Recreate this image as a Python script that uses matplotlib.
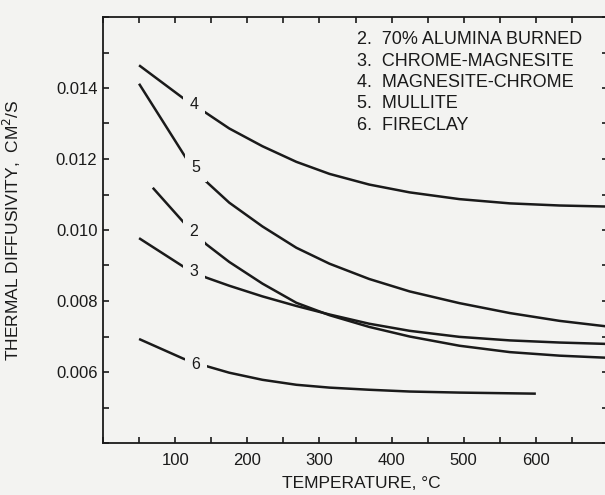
import matplotlib
matplotlib.use('Agg')
from matplotlib import pyplot as plt
from matplotlib.ticker import MultipleLocator, FixedLocator, FuncFormatter

# curve data (temperature in deg C, diffusivity in cm2/s)
temp_4 = [50, 112, 142, 175, 221, 268, 314, 369, 425, 494, 564, 633, 700]
diff_4 = [0.01464, 0.01370, 0.01331, 0.01286, 0.01236, 0.01192, 0.01158, 0.01128,
          0.01106, 0.01087, 0.01075, 0.01069, 0.01066]

temp_5 = [50, 115, 139, 175, 221, 268, 314, 369, 425, 494, 564, 633, 700]
diff_5 = [0.01412, 0.01203, 0.01144, 0.01077, 0.01010, 0.00950, 0.00905, 0.00862,
          0.00827, 0.00794, 0.00766, 0.00744, 0.00728]

temp_2 = [69, 112, 143, 175, 221, 268, 314, 369, 425, 494, 564, 633, 700]
diff_2 = [0.01119, 0.01021, 0.00960, 0.00910, 0.00849, 0.00795, 0.00760, 0.00727,
          0.00700, 0.00674, 0.00656, 0.00646, 0.00640]

temp_3 = [50, 112, 143, 175, 221, 268, 314, 369, 425, 494, 564, 633, 700]
diff_3 = [0.00977, 0.00896, 0.00866, 0.00843, 0.00813, 0.00786, 0.00762, 0.00736,
          0.00716, 0.00699, 0.00689, 0.00683, 0.00679]

temp_6 = [50, 112, 146, 175, 221, 268, 314, 369, 425, 494, 600]
diff_6 = [0.00693, 0.00637, 0.00615, 0.00598, 0.00578, 0.00564, 0.00556, 0.00550,
          0.00545, 0.00542, 0.00539]

curve_ids = ['4', '5', '2', '3', '6']
label_temp = [126, 129, 126, 126, 129]
label_diff = [0.01353, 0.01175, 0.00997, 0.00882, 0.00620]

legend_lines = ['2.  70% ALUMINA BURNED', '3.  CHROME-MAGNESITE', '4.  MAGNESITE-CHROME',
                '5.  MULLITE', '6.  FIRECLAY']

x_tick_labels = [100, 200, 300, 400, 500, 600]
y_tick_labels = [0.006, 0.008, 0.010, 0.012, 0.014]

PAPER = '#f3f3f1'
INK = '#1a1a1a'


def main():
    plt.rcParams['font.family'] = ['Liberation Sans', 'DejaVu Sans']
    fig = plt.figure(figsize=(6.05, 4.95), dpi=100, facecolor=PAPER)
    ax = fig.add_axes([103 / 605, 52 / 495, 505 / 605, 426 / 495], facecolor=PAPER)

    curves = [(temp_4, diff_4), (temp_5, diff_5), (temp_2, diff_2), (temp_3, diff_3), (temp_6, diff_6)]
    for xs, ys in curves:
        ax.plot(xs, ys, color=INK, linewidth=1.8, solid_capstyle='butt', solid_joinstyle='round')

    for cid, lx, ly in zip(curve_ids, label_temp, label_diff):
        ax.text(lx, ly, cid, fontsize=11.5, ha='center', va='center', color=INK,
                bbox=dict(fc=PAPER, ec='none', pad=4.5), zorder=5)

    ax.set_xlim(0, 700)
    ax.set_ylim(0.004, 0.016)

    ax.xaxis.set_major_locator(FixedLocator(x_tick_labels))
    ax.xaxis.set_minor_locator(MultipleLocator(50))
    ax.yaxis.set_major_locator(FixedLocator(y_tick_labels))
    ax.yaxis.set_minor_locator(MultipleLocator(0.001))
    ax.yaxis.set_major_formatter(FuncFormatter(lambda v, p: f'{v:.3f}'))

    ax.tick_params(which='both', direction='in', top=True, right=True, length=4,
                   width=1.2, color=INK)
    ax.tick_params(axis='x', which='major', labelsize=12, pad=7, colors=INK)
    ax.tick_params(axis='y', which='major', labelsize=12, pad=4, colors=INK)

    for side in ['left', 'bottom', 'top', 'right']:
        ax.spines[side].set_linewidth(1.3)
        ax.spines[side].set_color(INK)

    ax.set_xlabel('TEMPERATURE, °C', fontsize=12.5, color=INK)
    ax.xaxis.set_label_coords(0.511, -0.078)
    ax.set_ylabel('THERMAL DIFFUSIVITY,  CM$^2$/S', fontsize=12.5, color=INK)
    ax.yaxis.set_label_coords(-0.158, 0.5)

    for i, line in enumerate(legend_lines):
        fig.text(357 / 605, 1 - (40 + 21.3 * i) / 495, line, fontsize=13,
                 va='center', ha='left', color=INK)

    fig.savefig('out.png', dpi=100, facecolor=PAPER)


if __name__ == '__main__':
    main()
